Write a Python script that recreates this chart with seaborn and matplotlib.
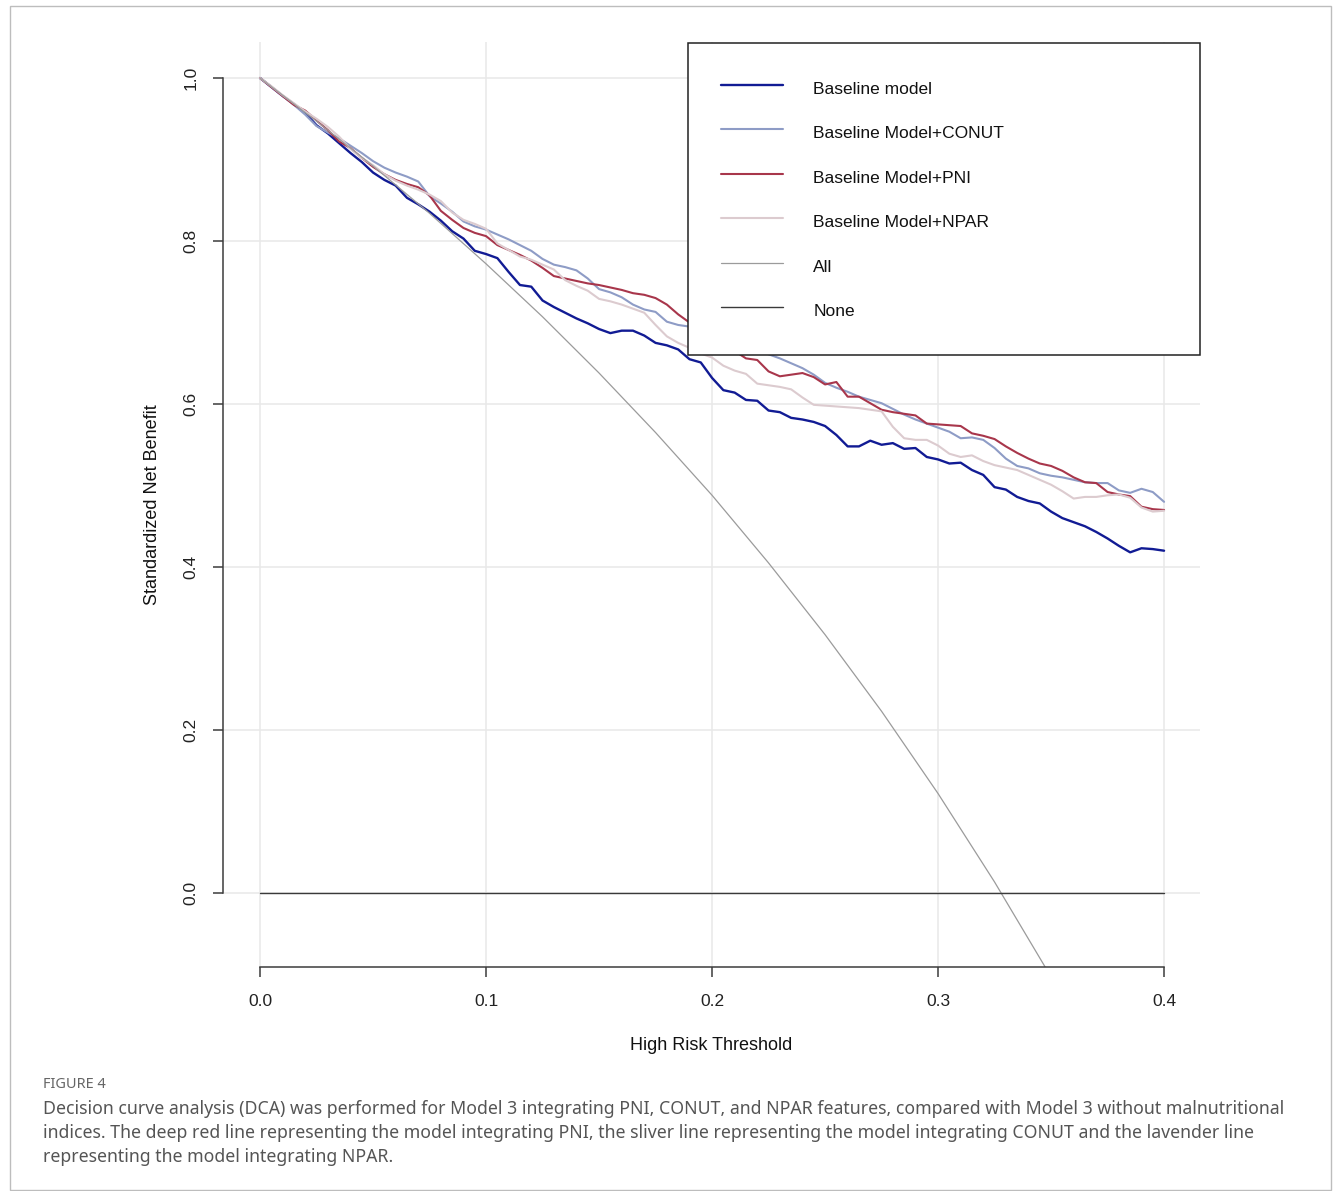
import matplotlib
matplotlib.use("Agg")
import matplotlib.pyplot as plt
import seaborn as sns
import pandas as pd
from matplotlib.patches import Rectangle

# ---------------- data ----------------
thresholds = [0.000, 0.005, 0.010, 0.015, 0.020, 0.025, 0.030, 0.035, 0.040, 0.045,
              0.050, 0.055, 0.060, 0.065, 0.070, 0.075, 0.080, 0.085, 0.090, 0.095,
              0.100, 0.105, 0.110, 0.115, 0.120, 0.125, 0.130, 0.135, 0.140, 0.145,
              0.150, 0.155, 0.160, 0.165, 0.170, 0.175, 0.180, 0.185, 0.190, 0.195,
              0.200, 0.205, 0.210, 0.215, 0.220, 0.225, 0.230, 0.235, 0.240, 0.245,
              0.250, 0.255, 0.260, 0.265, 0.270, 0.275, 0.280, 0.285, 0.290, 0.295,
              0.300, 0.305, 0.310, 0.315, 0.320, 0.325, 0.330, 0.335, 0.340, 0.345,
              0.350, 0.355, 0.360, 0.365, 0.370, 0.375, 0.380, 0.385, 0.390, 0.395,
              0.400]

baseline = [1.000, 0.989, 0.978, 0.968, 0.957, 0.942, 0.932, 0.920, 0.908, 0.897,
            0.884, 0.875, 0.868, 0.853, 0.845, 0.836, 0.825, 0.812, 0.803, 0.788,
            0.784, 0.779, 0.762, 0.746, 0.744, 0.727, 0.719, 0.712, 0.705, 0.699,
            0.692, 0.687, 0.690, 0.690, 0.684, 0.675, 0.672, 0.667, 0.655, 0.651,
            0.632, 0.617, 0.614, 0.605, 0.604, 0.592, 0.590, 0.583, 0.581, 0.578,
            0.573, 0.562, 0.548, 0.548, 0.555, 0.550, 0.552, 0.545, 0.546, 0.535,
            0.532, 0.527, 0.528, 0.519, 0.513, 0.498, 0.495, 0.486, 0.481, 0.478,
            0.468, 0.460, 0.455, 0.450, 0.443, 0.435, 0.426, 0.418, 0.423, 0.422,
            0.420]

conut = [1.000, 0.989, 0.978, 0.967, 0.955, 0.941, 0.933, 0.926, 0.917, 0.908,
         0.898, 0.890, 0.884, 0.879, 0.873, 0.855, 0.846, 0.836, 0.824, 0.818,
         0.814, 0.808, 0.802, 0.795, 0.788, 0.778, 0.771, 0.768, 0.764, 0.754,
         0.741, 0.737, 0.731, 0.722, 0.716, 0.713, 0.701, 0.697, 0.695, 0.690,
         0.685, 0.680, 0.676, 0.671, 0.667, 0.661, 0.656, 0.650, 0.644, 0.636,
         0.626, 0.620, 0.615, 0.609, 0.605, 0.601, 0.594, 0.587, 0.581, 0.576,
         0.571, 0.566, 0.558, 0.559, 0.556, 0.546, 0.533, 0.524, 0.521, 0.515,
         0.512, 0.510, 0.507, 0.504, 0.503, 0.503, 0.494, 0.491, 0.496, 0.492,
         0.480]

pni = [1.000, 0.989, 0.978, 0.967, 0.960, 0.948, 0.936, 0.922, 0.914, 0.902,
       0.891, 0.882, 0.875, 0.870, 0.866, 0.856, 0.837, 0.826, 0.816, 0.810,
       0.806, 0.795, 0.789, 0.783, 0.776, 0.767, 0.757, 0.754, 0.751, 0.748,
       0.746, 0.743, 0.740, 0.736, 0.734, 0.730, 0.722, 0.710, 0.700, 0.692,
       0.685, 0.675, 0.665, 0.656, 0.654, 0.640, 0.634, 0.636, 0.638, 0.633,
       0.624, 0.627, 0.609, 0.609, 0.601, 0.593, 0.590, 0.588, 0.586, 0.576,
       0.575, 0.574, 0.573, 0.564, 0.561, 0.557, 0.548, 0.540, 0.533, 0.527,
       0.524, 0.518, 0.510, 0.504, 0.503, 0.492, 0.489, 0.487, 0.474, 0.471,
       0.470]

npar = [1.000, 0.990, 0.979, 0.969, 0.959, 0.950, 0.940, 0.928, 0.913, 0.902,
        0.893, 0.882, 0.874, 0.868, 0.863, 0.857, 0.849, 0.835, 0.826, 0.821,
        0.815, 0.797, 0.789, 0.781, 0.777, 0.771, 0.765, 0.752, 0.745, 0.739,
        0.729, 0.726, 0.722, 0.717, 0.712, 0.697, 0.683, 0.675, 0.669, 0.662,
        0.657, 0.647, 0.641, 0.637, 0.625, 0.623, 0.621, 0.618, 0.608, 0.599,
        0.598, 0.597, 0.596, 0.595, 0.593, 0.591, 0.572, 0.558, 0.556, 0.556,
        0.549, 0.539, 0.535, 0.537, 0.530, 0.525, 0.522, 0.519, 0.513, 0.507,
        0.501, 0.493, 0.484, 0.486, 0.486, 0.488, 0.489, 0.485, 0.473, 0.468,
        0.469]

all_thresholds = [0.000, 0.025, 0.050, 0.075, 0.100, 0.125, 0.150, 0.175,
                  0.200, 0.225, 0.250, 0.275, 0.300, 0.325, 0.350]
all_values = [1.000, 0.947, 0.892, 0.834, 0.772, 0.707, 0.638, 0.565,
              0.488, 0.405, 0.317, 0.223, 0.122, 0.0135, -0.103]

none_thresholds = [0.00, 0.40]
none_values = [0.0, 0.0]

series_labels = ["Baseline model", "Baseline Model+CONUT", "Baseline Model+PNI",
                 "Baseline Model+NPAR", "All", "None"]
series_colors = ["#111b94", "#8e9cc6", "#a8364b", "#dccbcf", "#9b9b9b", "#3a3a3a"]
series_widths = [1.7, 1.5, 1.5, 1.5, 0.9, 1.0]

x_ticks = [0.0, 0.1, 0.2, 0.3, 0.4]
x_ticklabels = ["0.0", "0.1", "0.2", "0.3", "0.4"]
y_ticks = [0.0, 0.2, 0.4, 0.6, 0.8, 1.0]
y_ticklabels = ["0.0", "0.2", "0.4", "0.6", "0.8", "1.0"]

caption_head = "FIGURE 4"
caption_lines = [
    "Decision curve analysis (DCA) was performed for Model 3 integrating PNI, CONUT, and NPAR features, compared with Model 3 without malnutritional",
    "indices. The deep red line representing the model integrating PNI, the sliver line representing the model integrating CONUT and the lavender line",
    "representing the model integrating NPAR.",
]

# ---------------- figure ----------------
sns.set_theme(style="white")
plt.rcParams["font.family"] = ["Liberation Sans", "DejaVu Sans"]

W, H = 1333, 1191
fig = plt.figure(figsize=(W / 100, H / 100), dpi=100)

def fx(px):
    return px / W

def fy(py):
    return 1 - py / H

ax_l, ax_r, ax_t, ax_b = 223, 1200, 42, 967
ax = fig.add_axes([fx(ax_l), fy(ax_b), fx(ax_r) - fx(ax_l), fy(ax_t) - fy(ax_b)])

xs_list = [thresholds, thresholds, thresholds, thresholds, all_thresholds, none_thresholds]
ys_list = [baseline, conut, pni, npar, all_values, none_values]

for xs, ys, lab, col, lw in zip(xs_list, ys_list, series_labels, series_colors, series_widths):
    df = pd.DataFrame({"x": xs, "y": ys})
    sns.lineplot(data=df, x="x", y="y", ax=ax, color=col, linewidth=lw,
                 label=lab, sort=False, estimator=None)

ax.set_xlim(-0.0164, 0.4159)
ax.set_ylim(-0.0908, 1.0442)

ax.set_xticks(x_ticks)
ax.set_xticklabels(x_ticklabels)
ax.set_yticks(y_ticks)
ax.set_yticklabels(y_ticklabels, rotation=90, va="center")

ax.grid(True, color="#e8e8e8", linewidth=1.1)
ax.set_axisbelow(True)

for s in ["top", "right"]:
    ax.spines[s].set_visible(False)
for s in ["left", "bottom"]:
    ax.spines[s].set_color("#3c3c3c")
    ax.spines[s].set_linewidth(1.1)
ax.spines["left"].set_bounds(0.0, 1.0)
ax.spines["bottom"].set_bounds(0.0, 0.4)

ax.tick_params(axis="both", which="major", direction="out", length=7.5, width=1.1,
               color="#3c3c3c", labelsize=12.5, labelcolor="#222222",
               bottom=True, left=True)
ax.tick_params(axis="x", pad=12)
ax.tick_params(axis="y", pad=10)

ax.set_xlabel("High Risk Threshold", fontsize=13, color="#111111", labelpad=20)
ax.set_ylabel("Standardized Net Benefit", fontsize=13, color="#111111", labelpad=16)

leg = ax.legend(loc="upper left",
                bbox_to_anchor=(fx(688), fy(43), fx(1200) - fx(688), 0),
                bbox_transform=fig.transFigure, mode="expand", borderaxespad=0,
                fontsize=12.5, frameon=True, fancybox=False, framealpha=1,
                edgecolor="#222222", facecolor="white",
                handlelength=3.6, handletextpad=1.72, labelspacing=1.18,
                handleheight=1.75, borderpad=1.9)
leg.get_frame().set_linewidth(1.1)
leg.set_zorder(10)
for t in leg.get_texts():
    t.set_color("#111111")

# outer frame
fig.patches.append(Rectangle((fx(10), fy(1190)), fx(1331) - fx(10), fy(6) - fy(1190),
                             transform=fig.transFigure, fill=False,
                             edgecolor="#bdbdbd", linewidth=1.0))

cap_font = ["Noto Sans", "DejaVu Sans"]
fig.text(fx(43), fy(1085), caption_head, fontsize=10.5, color="#666666",
         family=cap_font, va="center", ha="left")
for i, line in enumerate(caption_lines):
    fig.text(fx(43), fy(1109 + 24 * i), line, fontsize=12.74, color="#555555",
             family=cap_font, va="center", ha="left")

fig.savefig("out.png", dpi=100)
